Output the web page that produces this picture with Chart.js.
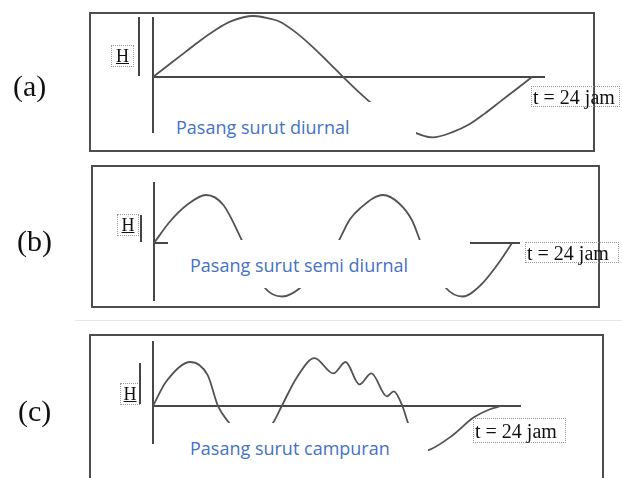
<!DOCTYPE html>
<html>
<head>
<meta charset="utf-8">
<script src="https://cdn.jsdelivr.net/npm/chart.js@4.4.1/dist/chart.umd.min.js"></script>
<style>
html,body{margin:0;padding:0;background:#fff;}
#wrap{position:relative;width:622px;height:478px;overflow:hidden;background:#fff;}
#wrap canvas{position:absolute;left:0;top:0;z-index:2;}
.panel{position:absolute;border:2px solid #4d4d4d;box-sizing:border-box;z-index:1;}
.sep{position:absolute;height:1px;background:#e6e6e6;z-index:1;}
.tag{position:absolute;font-family:"Liberation Serif","Times New Roman",serif;font-size:30px;color:#111;line-height:1;white-space:nowrap;z-index:5;}
.hbox{position:absolute;border:1px dotted #9a9a9a;box-sizing:border-box;font-family:"Liberation Serif","Times New Roman",serif;font-size:18px;text-decoration:underline;display:flex;align-items:center;justify-content:center;color:#111;z-index:5;}
.vbar{position:absolute;width:2px;background:#444;z-index:5;}
.cover{position:absolute;background:#fff;z-index:3;}
.type{position:absolute;font-family:"Open Sans",sans-serif;font-size:18px;color:#4472c4;white-space:nowrap;line-height:1;z-index:4;}
.tbox{position:absolute;border:1px dotted #9a9a9a;box-sizing:border-box;font-family:"Liberation Serif","Times New Roman",serif;font-size:20px;color:#111;white-space:nowrap;line-height:1;display:flex;align-items:center;padding-left:1px;z-index:4;}
</style>
</head>
<body>
<div id="wrap"></div>
<script>
// ---- data ----
const PANEL_TAGS = ['(a)', '(b)', '(c)'];
const TYPE_LABELS = ['Pasang surut diurnal', 'Pasang surut semi diurnal', 'Pasang surut campuran'];
const AXIS_LABEL = 'H';
const END_LABEL = 't = 24 jam';

// time in hours, water level H (relative units)
const TIME_A = [0, 1, 2, 3, 4, 5, 6.33, 7, 8, 9, 10, 11, 12, 13, 14, 15, 16, 17.7, 19, 20, 21, 22, 23, 24];
const H_A    = [0, 0.2, 0.4, 0.6, 0.78, 0.92, 1.0, 0.98, 0.91, 0.74, 0.52, 0.27, 0.01, -0.24, -0.47, -0.68, -0.84, -0.99, -0.9, -0.78, -0.6, -0.4, -0.2, 0];

const TIME_B = [0, 1.07, 2.2, 3.49, 4.65, 5.88, 7.44, 8.62, 9.79, 11, 12.3, 13.1, 13.8, 15.35, 16.4, 17.3, 17.9, 19.57, 20.7, 21.9, 23.0, 24];
const H_B    = [0, 0.43, 0.76, 0.96, 0.76, 0.06, -0.9, -1.07, -0.9, -0.5, 0, 0.46, 0.69, 0.96, 0.8, 0.45, 0, -0.9, -1.07, -0.84, -0.44, 0];

const TIME_C = [0, 0.9, 2.57, 3.77, 4.48, 5.19, 6.7, 8.28, 8.88, 9.94, 11.14, 12.44, 13.28, 14.23, 15.06, 16.13, 16.6, 17.2, 17.56, 18.5, 19.1, 20.65, 22.08, 23.2, 24];
const H_C    = [0, 0.55, 1.0, 0.7, 0, -0.36, -0.9, -0.38, 0, 0.66, 1.09, 0.74, 1.0, 0.49, 0.74, 0.22, 0.33, 0, -0.36, -1.02, -0.99, -0.67, -0.27, -0.08, 0];

// ---- layout ----
const W = 622, HH = 478;
const PANELS = [
  { times: TIME_A, vals: H_A, box:{l:89,t:12,r:595,b:152}, area:{l:153,r:545,t:17,b:133}, ymin:-0.918, ymax:0.984, xmax:24.82,
    hbox:{l:111,t:45,w:23,h:22}, vbar:{x:139,t:17,b:76}, cover:{l:158,t:102,r:416,b:150}, type:{x:176,cy:128},
    tbox:{l:531,t:86,w:89,h:21}, tag:{x:13,cy:86} },
  { times: TIME_B, vals: H_B, box:{l:91,t:165,r:600,b:308}, area:{l:154,r:520,t:182,b:301}, ymin:-1.16, ymax:1.22, xmax:24.53,
    hbox:{l:117,t:214,w:22,h:22}, vbar:{x:141,t:215,b:242}, cover:{l:168,t:240,r:470,b:288}, type:{x:190,cy:266},
    tbox:{l:525,t:242,w:94,h:21}, tag:{x:17,cy:241} },
  { times: TIME_C, vals: H_C, box:{l:89,t:334,r:604,b:500}, area:{l:153,r:521,t:341,b:444}, ymin:-0.864, ymax:1.477, xmax:25.38,
    hbox:{l:120,t:383,w:20,h:22}, vbar:{x:140,t:363,b:404}, cover:{l:156,t:423,r:428,b:470}, type:{x:190,cy:449},
    tbox:{l:473,t:418,w:93,h:25}, tag:{x:18,cy:411} }
];

const wrap = document.getElementById('wrap');
function el(cls, css, text){
  const d = document.createElement('div');
  d.className = cls;
  Object.assign(d.style, css);
  if (text !== undefined) d.textContent = text;
  wrap.appendChild(d);
  return d;
}

el('sep', {left:'75px', top:'320px', width:'547px'});

const axesPlugin = {
  id: 'tideAxes',
  beforeDatasetsDraw(chart){
    const {ctx, chartArea, scales:{x, y}} = chart;
    const x0 = x.getPixelForValue(0), y0 = y.getPixelForValue(0);
    ctx.save();
    ctx.strokeStyle = '#474747';
    ctx.lineWidth = 2;
    ctx.beginPath();
    ctx.moveTo(x0, chartArea.top); ctx.lineTo(x0, chartArea.bottom);
    ctx.moveTo(x0, y0); ctx.lineTo(chartArea.right, y0);
    ctx.stroke();
    ctx.restore();
  }
};

PANELS.forEach((p, i) => {
  el('panel', {left:p.box.l+'px', top:p.box.t+'px', width:(p.box.r-p.box.l)+'px', height:(p.box.b-p.box.t)+'px'});
  el('tag', {left:p.tag.x+'px', top:(p.tag.cy-15)+'px'}, PANEL_TAGS[i]);
  el('hbox', {left:p.hbox.l+'px', top:p.hbox.t+'px', width:p.hbox.w+'px', height:p.hbox.h+'px'}, AXIS_LABEL);
  el('vbar', {left:(p.vbar.x-1)+'px', top:p.vbar.t+'px', height:(p.vbar.b-p.vbar.t)+'px'});
  el('cover', {left:p.cover.l+'px', top:p.cover.t+'px', width:(p.cover.r-p.cover.l)+'px', height:(p.cover.b-p.cover.t)+'px'});
  el('type', {left:p.type.x+'px', top:(p.type.cy-10)+'px'}, TYPE_LABELS[i]);
  el('tbox', {left:p.tbox.l+'px', top:p.tbox.t+'px', width:p.tbox.w+'px', height:p.tbox.h+'px'}, END_LABEL);

  const cv = document.createElement('canvas');
  cv.width = W; cv.height = HH;
  cv.style.width = W+'px'; cv.style.height = HH+'px';
  wrap.appendChild(cv);

  new Chart(cv, {
    type: 'line',
    data: { datasets: [{
      data: p.times.map((t, k) => ({x: t, y: p.vals[k]})),
      borderColor: '#535353',
      borderWidth: 1.8,
      pointRadius: 0,
      fill: false,
      cubicInterpolationMode: 'monotone',
      clip: false
    }]},
    options: {
      responsive: false,
      animation: false,
      events: [],
      devicePixelRatio: 1,
      layout: { padding: { left: p.area.l, top: p.area.t, right: W - p.area.r, bottom: HH - p.area.b } },
      plugins: { legend: {display:false}, tooltip: {enabled:false}, title:{display:false} },
      scales: {
        x: { type:'linear', display:false, min:0, max:p.xmax },
        y: { type:'linear', display:false, min:p.ymin, max:p.ymax }
      }
    },
    plugins: [axesPlugin]
  });
});
</script>
</body>
</html>
